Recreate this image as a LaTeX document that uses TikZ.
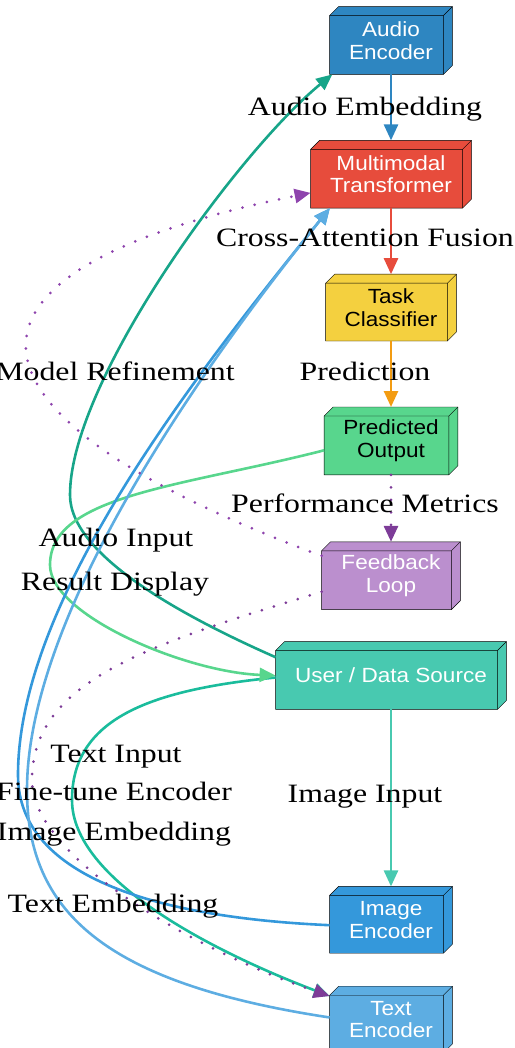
\documentclass[tikz,border=0pt]{standalone}
\usepackage{fontspec}
\newfontfamily\nodefont{Liberation Sans}[FakeStretch=1.1]
\newfontfamily\edgefont{Liberation Serif}[FakeStretch=1.2]
\usetikzlibrary{arrows.meta}
\usetikzlibrary{positioning}
\usetikzlibrary{calc}
\usetikzlibrary{backgrounds}

\definecolor{audioblue}{HTML}{2E86C1}
\definecolor{imageblue}{HTML}{3498DB}
\definecolor{textblue}{HTML}{5DADE2}
\definecolor{fusionred}{HTML}{E74C3C}
\definecolor{taskyellow}{HTML}{F4D03F}
\definecolor{predorange}{HTML}{F39C12}
\definecolor{outgreen}{HTML}{58D68D}
\definecolor{loopviolet}{HTML}{BB8FCE}
\definecolor{metricpurple}{HTML}{7D3C98}
\definecolor{refinepurple}{HTML}{8E44AD}
\definecolor{usersea}{HTML}{48C9B0}
\definecolor{audioteal}{HTML}{17A589}
\definecolor{textteal}{HTML}{1ABC9C}

\begin{document}
\begin{tikzpicture}[x=1pt, y=-1pt, thick,
    main node/.style={rectangle, inner sep=0pt, minimum height=67pt, align=center,
                      font=\nodefont\fontsize{20.5}{22.5}\selectfont},
    edge label/.style={anchor=base, inner sep=0pt, font=\edgefont\fontsize{26.5}{30}\selectfont},
    link/.style={line width=2.6pt, -{Triangle[length=16pt,width=14pt]}},
    dots/.style={line width=3pt, line cap=round, dash pattern=on 0pt off 12.5pt}]

  \useasboundingbox (0,0) rectangle (514,1048);

  \node[main node, minimum width=122pt, text=white] (audio) at (391,40.5) {Audio\\Encoder};
  \node[main node, minimum width=160pt, text=white, below=66pt of audio] (fusion) {Multimodal\\Transformer};
  \node[main node, minimum width=130pt, minimum height=66pt, below=66pt of fusion] (classifier) {Task\\Classifier};
  \node[main node, minimum width=133pt, below=66pt of classifier] (output) {Predicted\\Output};
  \node[main node, minimum width=138pt, text=white, below=67pt of output] (feedback) {Feedback\\Loop};
  \node[main node, minimum width=230pt, text=white, below=32pt of feedback] (user) {User / Data Source};
  \node[main node, minimum width=122pt, minimum height=66pt, text=white, below=177pt of user] (imgenc) {Image\\Encoder};
  \node[main node, minimum width=122pt, minimum height=66pt, text=white, below=33pt of imgenc] (txtenc) {Text\\Encoder};

  % 3d boxes behind the labels
  \begin{scope}[on background layer, line width=1.8pt, line join=round]
    \foreach \n/\c in {audio/audioblue, fusion/fusionred, classifier/taskyellow, output/outgreen,
                       feedback/loopviolet, user/usersea, imgenc/imageblue, txtenc/textblue} {
      \filldraw[fill=\c] ($(\n.north west)+(0,9)$) -- (\n.south west) -- ($(\n.south east)+(-9,0)$)
        -- ($(\n.south east)+(0,-9)$) -- (\n.north east) -- ($(\n.north west)+(9,0)$) -- cycle;
      \draw ($(\n.north west)+(0,9)$) -- ($(\n.north east)+(-9,9)$) -- ($(\n.south east)+(-9,0)$)
        ($(\n.north east)+(-9,9)$) -- (\n.north east);
    }
  \end{scope}

  % main chain
  \draw[link, audioblue] (audio) -- (fusion);
  \draw[link, fusionred] (fusion) -- (classifier);
  \draw[link, predorange] (classifier) -- (output);
  \draw[link, metricpurple, dots] (output) -- (feedback);
  \draw[link, usersea] (user) -- (imgenc);

  % inputs
  \draw[link, audioteal] (user.171) .. controls (182,616) and (70,555) .. (70,495)
    .. controls (70,380) and (240,150) .. (audio.210);
  \draw[link, textteal] (user.181) .. controls (147,690) and (72,720) .. (72,800)
    .. controls (72,880) and (214,952) .. (txtenc.159);
  \draw[link, outgreen] (output.188) .. controls (181,487) and (50,495) .. (50,565)
    .. controls (50,615) and (185,672) .. (user.west);

  % embeddings
  \draw[link, imageblue] (imgenc.185) .. controls (165,918) and (18,880) .. (18,775)
    .. controls (18,600) and (195,375) .. (fusion.209);
  \draw[link, textblue] (txtenc.178) .. controls (102,983) and (27,910) .. (27,790)
    .. controls (27,620) and (191,380) .. (fusion.209);

  % feedback
  \draw[link, refinepurple, dots] (feedback.164) .. controls (-54,417) and (-82,272) .. (fusion.193);
  \draw[link, metricpurple, dots] (feedback.193) .. controls (151,644) and (32,680) .. (32,780)
    .. controls (32,860) and (204,954) .. (txtenc.159);

  \node[edge label] at (365,116) {Audio Embedding};
  \node[edge label] at (365,247) {Cross-Attention Fusion};
  \node[edge label] at (365,380) {Prediction};
  \node[edge label] at (115,380) {Model Refinement};
  \node[edge label] at (365,512) {Performance Metrics};
  \node[edge label] at (116,546) {Audio Input};
  \node[edge label] at (115,590) {Result Display};
  \node[edge label] at (116,762) {Text Input};
  \node[edge label] at (114,800) {Fine-tune Encoder};
  \node[edge label] at (365,802) {Image Input};
  \node[edge label] at (114,840) {Image Embedding};
  \node[edge label] at (113,912) {Text Embedding};

\end{tikzpicture}
\end{document}
